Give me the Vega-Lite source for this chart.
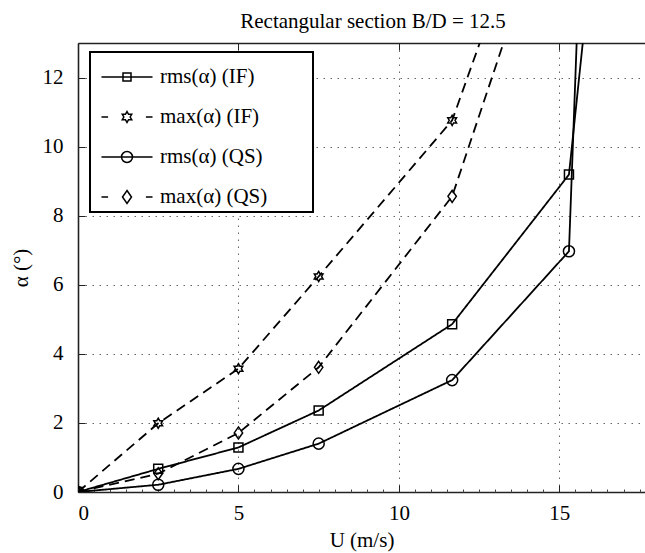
{
  "$schema": "https://vega.github.io/schema/vega-lite/v6.json",
  "width": 567,
  "height": 449,
  "autosize": {"type": "none"},
  "padding": {"left": 78, "top": 43, "right": 0, "bottom": 61},
  "background": "white",
  "title": {
    "text": "Rectangular section B/D = 12.5",
    "font": "'Liberation Serif', 'Times New Roman', serif",
    "fontSize": 21,
    "fontWeight": "normal",
    "color": "black",
    "anchor": "middle",
    "frame": "group",
    "offset": 8,
    "dx": 11.5
  },
  "config": {
    "view": {"stroke": null},
    "legend": {"strokeWidth": 2}
  },
  "data": {
    "values": [
      {"series": "rms(α) (IF)", "U": 0, "alpha": 0},
      {"series": "rms(α) (IF)", "U": 2.5, "alpha": 0.67},
      {"series": "rms(α) (IF)", "U": 5, "alpha": 1.29},
      {"series": "rms(α) (IF)", "U": 7.5, "alpha": 2.36},
      {"series": "rms(α) (IF)", "U": 11.66, "alpha": 4.86},
      {"series": "rms(α) (IF)", "U": 15.3, "alpha": 9.19},
      {"series": "rms(α) (IF)", "U": 15.73, "alpha": 13},
      {"series": "max(α) (IF)", "U": 0, "alpha": 0},
      {"series": "max(α) (IF)", "U": 2.5, "alpha": 1.99},
      {"series": "max(α) (IF)", "U": 5, "alpha": 3.57},
      {"series": "max(α) (IF)", "U": 7.5, "alpha": 6.24},
      {"series": "max(α) (IF)", "U": 11.66, "alpha": 10.76},
      {"series": "max(α) (IF)", "U": 12.52, "alpha": 13},
      {"series": "rms(α) (QS)", "U": 0, "alpha": 0},
      {"series": "rms(α) (QS)", "U": 2.5, "alpha": 0.21},
      {"series": "rms(α) (QS)", "U": 5, "alpha": 0.67},
      {"series": "rms(α) (QS)", "U": 7.5, "alpha": 1.4},
      {"series": "rms(α) (QS)", "U": 11.66, "alpha": 3.24},
      {"series": "rms(α) (QS)", "U": 15.3, "alpha": 6.97},
      {"series": "rms(α) (QS)", "U": 15.54, "alpha": 13},
      {"series": "max(α) (QS)", "U": 0, "alpha": 0},
      {"series": "max(α) (QS)", "U": 2.5, "alpha": 0.53},
      {"series": "max(α) (QS)", "U": 5, "alpha": 1.71},
      {"series": "max(α) (QS)", "U": 7.5, "alpha": 3.61},
      {"series": "max(α) (QS)", "U": 11.66, "alpha": 8.56},
      {"series": "max(α) (QS)", "U": 13.26, "alpha": 13}
    ]
  },
  "layer": [
    {
      "mark": {"type": "line", "color": "black", "strokeWidth": 1.8, "clip": true},
      "encoding": {
        "x": {
          "field": "U", "type": "quantitative",
          "scale": {"domain": [0, 17.67], "nice": false, "zero": false},
          "axis": {
            "orient": "bottom", "values": [0, 5, 10, 15], "ticks": false,
            "domainColor": "#222", "domainWidth": 1.6,
            "grid": true, "gridDash": [1.5, 5.5], "gridColor": "#666", "gridWidth": 1,
            "labelFont": "'Liberation Serif', 'Times New Roman', serif", "labelFontSize": 21, "labelColor": "black", "labelPadding": 10,
            "title": "U (m/s)", "titleFont": "'Liberation Serif', 'Times New Roman', serif", "titleFontSize": 21, "titleFontWeight": "normal",
            "titleColor": "black", "titleY": 48, "titleBaseline": "middle"
          }
        },
        "y": {
          "field": "alpha", "type": "quantitative",
          "scale": {"domain": [0, 13], "nice": false, "zero": false},
          "axis": {
            "orient": "left", "values": [0, 2, 4, 6, 8, 10, 12], "ticks": false,
            "domainColor": "#222", "domainWidth": 1.6,
            "grid": true, "gridDash": [1.5, 5.5], "gridColor": "#666", "gridWidth": 1,
            "labelFont": "'Liberation Serif', 'Times New Roman', serif", "labelFontSize": 21, "labelColor": "black", "labelPadding": 15,
            "title": "α (°)", "titleFont": "'Liberation Serif', 'Times New Roman', serif", "titleFontSize": 21, "titleFontWeight": "normal",
            "titleColor": "black", "titleX": -57, "titleBaseline": "middle"
          }
        },
        "strokeDash": {
          "field": "series", "type": "nominal",
          "scale": {"domain": ["rms(α) (IF)", "max(α) (IF)", "rms(α) (QS)", "max(α) (QS)"], "range": [[1, 0], [10, 6], [1, 0], [10, 6]]},
          "legend": null
        }
      }
    },
    {
      "transform": [{"filter": "datum.alpha < 13"}],
      "mark": {"type": "point", "filled": false, "color": "black", "strokeWidth": 1.5, "opacity": 1, "clip": true},
      "encoding": {
        "x": {
          "field": "U", "type": "quantitative",
          "axis": {"orient": "top", "values": [0, 5, 10, 15], "labels": false, "ticks": true, "tickSize": -7, "tickColor": "#222", "tickWidth": 1,
            "domainColor": "#222", "domainWidth": 1.6, "grid": false, "title": null, "minExtent": 0, "maxExtent": 0}
        },
        "y": {
          "field": "alpha", "type": "quantitative",
          "axis": {"orient": "left", "values": [0, 2, 4, 6, 8, 10, 12], "labels": false, "ticks": true, "tickSize": -7, "tickColor": "#222", "tickWidth": 1,
            "domain": false, "grid": false, "title": null, "minExtent": 0, "maxExtent": 0}
        },
        "shape": {
          "field": "series", "type": "nominal",
          "scale": {
            "domain": ["rms(α) (IF)", "max(α) (IF)", "rms(α) (QS)", "max(α) (QS)"],
            "range": ["square", "M0,-1L0.289,-0.5L0.866,-0.5L0.577,0L0.866,0.5L0.289,0.5L0,1L-0.289,0.5L-0.866,0.5L-0.577,0L-0.866,-0.5L-0.289,-0.5Z", "circle", "M0,-1L0.7,0L0,1L-0.7,0Z"]
          },
          "legend": null
        },
        "size": {
          "field": "series", "type": "ordinal",
          "scale": {"domain": ["rms(α) (IF)", "max(α) (IF)", "rms(α) (QS)", "max(α) (QS)"], "range": [81, 144, 121, 169]},
          "legend": null
        }
      }
    },
    {
      "transform": [{"filter": "datum.alpha > 1000"}],
      "mark": {"type": "point", "filled": false, "color": "black", "strokeWidth": 1.5},
      "encoding": {
        "x": {
          "field": "U", "type": "quantitative",
          "axis": {"orient": "bottom", "values": [0, 5, 10, 15], "labels": false, "ticks": true, "tickSize": -7, "tickColor": "#222", "tickWidth": 1,
            "domain": false, "grid": false, "title": null}
        },
        "y": {"field": "alpha", "type": "quantitative", "axis": null},
        "shape": {
          "field": "series", "type": "nominal",
          "scale": {
            "domain": ["rms(α) (IF)", "max(α) (IF)", "rms(α) (QS)", "max(α) (QS)"],
            "range": [
              "M-1.35,0H1.35M-0.212,-0.212H0.212V0.212H-0.212Z",
              "M-1.35,0H-1M1,0H1.35M0,-0.29L0.0837,-0.145L0.251,-0.145L0.1674,0L0.251,0.145L0.0837,0.145L0,0.29L-0.0837,0.145L-0.251,0.145L-0.1674,0L-0.251,-0.145L-0.0837,-0.145Z",
              "M-1.35,0H1.35M0.29,0A0.29,0.29,0,1,1,-0.29,0A0.29,0.29,0,1,1,0.29,0Z",
              "M-1.35,0H-1M1,0H1.35M0,-0.344L0.238,0L0,0.344L-0.238,0Z"
            ]
          },
          "legend": {
            "title": "\u00a0",
            "titleOrient": "right",
            "titlePadding": 41,
            "titleFontSize": 2,
            "orient": "none", "legendX": 12, "legendY": 9,
            "padding": 5,
            "strokeColor": "black",
            "fillColor": "white",
            "symbolSize": 1429,
            "symbolStrokeWidth": 1.5,
            "symbolStrokeColor": "black",
            "symbolFillColor": "transparent",
            "symbolOpacity": 1,
            "symbolOffset": 12,
            "labelOffset": 13,
            "rowPadding": 10,
            "labelFont": "'Liberation Serif', 'Times New Roman', serif", "labelFontSize": 21, "labelColor": "black",
            "labelLimit": 400,
            "encode": {
              "legend": {"update": {"strokeWidth": {"value": 2}}}
            }
          }
        }
      }
    },
    {
      "mark": {"type": "point", "opacity": 0},
      "encoding": {
        "x": {
          "field": "U", "type": "quantitative",
          "axis": {"orient": "bottom", "values": [0.5, 1, 1.5, 2, 2.5, 3, 3.5, 4, 4.5, 5.5, 6, 6.5, 7, 7.5, 8, 8.5, 9, 9.5, 10.5, 11, 11.5, 12, 12.5, 13, 13.5, 14, 14.5, 15.5, 16, 16.5, 17, 17.5],
            "labels": false, "ticks": true, "tickSize": -3, "tickColor": "#444", "tickWidth": 1, "domain": false, "grid": false, "title": null}
        },
        "y": {"field": "alpha", "type": "quantitative", "axis": null}
      }
    }
  ],
  "resolve": {
    "axis": {"x": "independent", "y": "independent"},
    "scale": {"shape": "independent", "size": "independent"}
  }
}
